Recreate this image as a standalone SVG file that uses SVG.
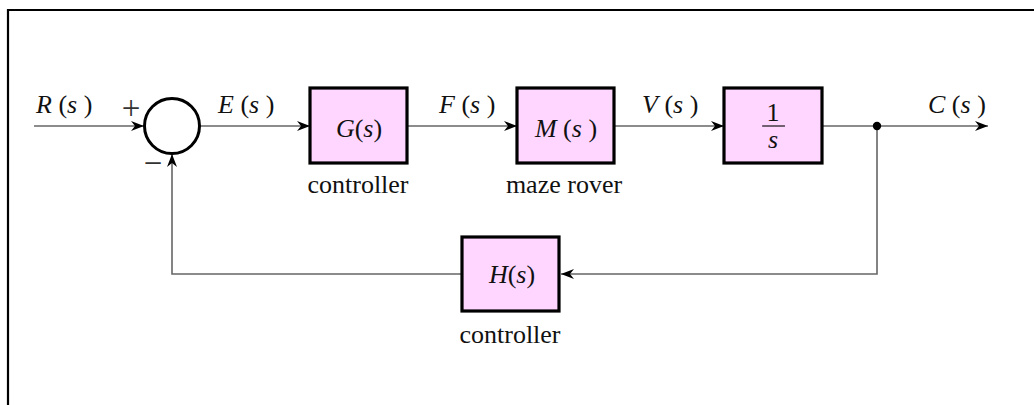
<svg xmlns="http://www.w3.org/2000/svg" width="1034" height="405" viewBox="0 0 1034 405">
<style>
.frame{fill:none;stroke:#000;stroke-width:2.2}
.box{fill:#ffd6ff;stroke:#000;stroke-width:3.2}
.wire{fill:none;stroke:#666;stroke-width:1.6}
.t{font-family:"Liberation Serif","Times New Roman",serif;font-size:26px;fill:#111}
.i{font-style:italic}
.sign{font-family:"Liberation Serif","Times New Roman",serif;font-size:33px;fill:#333}
</style>
<defs>
<marker id="arr" markerUnits="userSpaceOnUse" markerWidth="16" markerHeight="14" viewBox="-14 -7 16 14" refX="0" refY="0" orient="auto">
<path d="M0,0 L-13,-5 L-9,0 L-13,5 Z" fill="#000"/>
</marker>
</defs>
<rect x="0" y="0" width="1034" height="405" fill="#fff"/>
<path class="frame" d="M8,420 V10 H1050"/>
<g id="connectors">
<line class="wire" x1="34" y1="126" x2="144" y2="126" marker-end="url(#arr)"/>
<line class="wire" x1="200" y1="126" x2="310" y2="126" marker-end="url(#arr)"/>
<line class="wire" x1="407" y1="126" x2="517" y2="126" marker-end="url(#arr)"/>
<line class="wire" x1="614" y1="126" x2="724" y2="126" marker-end="url(#arr)"/>
<line class="wire" x1="822" y1="126" x2="988" y2="126" marker-end="url(#arr)"/>
<polyline class="wire" points="877,126 877,274 561,274" marker-end="url(#arr)"/>
<polyline class="wire" points="462,274 172,274 172,154" marker-end="url(#arr)"/>
<circle cx="877" cy="126" r="4.2" fill="#000"/>
</g>
<g id="sum">
<circle cx="172" cy="126" r="27.5" fill="#fff" stroke="#000" stroke-width="3"/>
<text class="sign" x="131" y="119" text-anchor="middle">+</text>
<text class="sign" x="153" y="174" text-anchor="middle">−</text>
</g>
<g id="labels">
<text class="t" x="36" y="113"><tspan class="i">R</tspan> (<tspan class="i">s</tspan> )</text>
<text class="t" x="218" y="113"><tspan class="i">E</tspan> (<tspan class="i">s</tspan> )</text>
<text class="t" x="439" y="113"><tspan class="i">F</tspan> (<tspan class="i">s</tspan> )</text>
<text class="t" x="642" y="113"><tspan class="i">V</tspan> (<tspan class="i">s</tspan> )</text>
<text class="t" x="928" y="113"><tspan class="i">C</tspan> (<tspan class="i">s</tspan> )</text>
</g>
<g id="G">
<rect class="box" x="310" y="88" width="97" height="75"/>
<text class="t" x="359" y="137" text-anchor="middle"><tspan class="i">G</tspan>(<tspan class="i">s</tspan>)</text>
<text class="t" x="358" y="193" text-anchor="middle">controller</text>
</g>
<g id="M">
<rect class="box" x="517" y="88" width="97" height="75"/>
<text class="t" x="566" y="137" text-anchor="middle"><tspan class="i">M</tspan> (<tspan class="i">s</tspan> )</text>
<text class="t" x="564" y="193" text-anchor="middle">maze rover</text>
</g>
<g id="I">
<rect class="box" x="724" y="88" width="98" height="75"/>
<text class="t" x="773" y="121" text-anchor="middle">1</text>
<line x1="762" y1="126" x2="785" y2="126" stroke="#111" stroke-width="1.2"/>
<text class="t i" x="773" y="148" text-anchor="middle">s</text>
</g>
<g id="H">
<rect class="box" x="462" y="237" width="97" height="74"/>
<text class="t" x="512" y="283" text-anchor="middle"><tspan class="i">H</tspan>(<tspan class="i">s</tspan>)</text>
<text class="t" x="510" y="343" text-anchor="middle">controller</text>
</g>
</svg>
